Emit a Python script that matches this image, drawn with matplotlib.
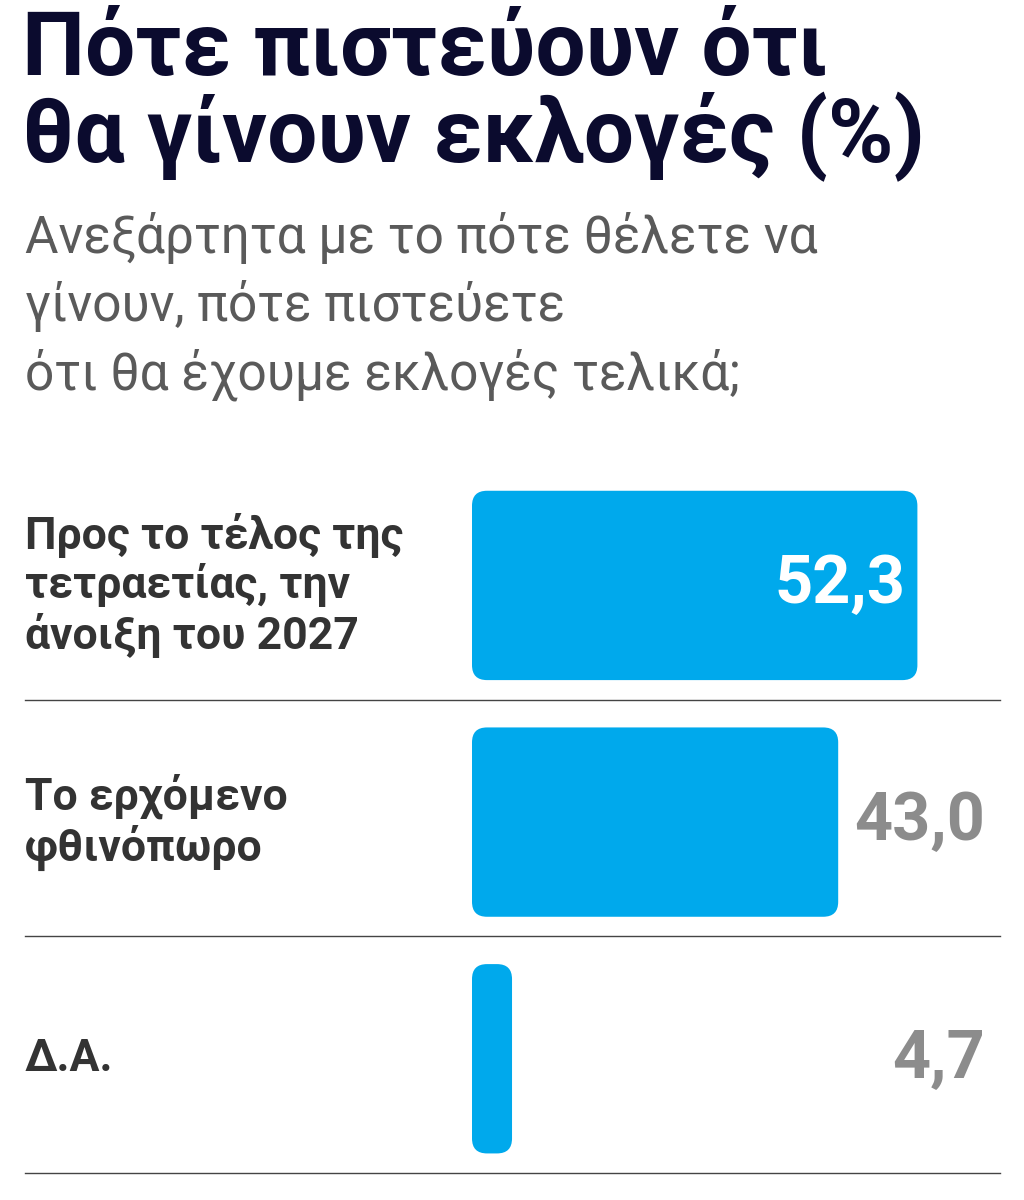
import matplotlib.pyplot as plt
from matplotlib.patches import FancyBboxPatch
from matplotlib.lines import Line2D

plt.rcParams['font.family'] = ['Roboto', 'DejaVu Sans']

# δεδομένα
categories = ["Προς το τέλος της\nτετραετίας, την\nάνοιξη του 2027",
              "Το ερχόμενο\nφθινόπωρο",
              "Δ.Α."]
values = [52.3, 43.0, 4.7]
value_labels = ["52,3", "43,0", "4,7"]

W, H = 1024, 1200
fig = plt.figure(figsize=(W / 100, H / 100), dpi=100)

def fx(px):
    return px / W

def fy(py):
    return 1 - py / H

# τίτλος
fig.text(fx(22), fy(8), "Πότε πιστεύουν ότι\nθα γίνουν εκλογές (%)", ha='left', va='top',
         fontsize=64, fontweight='bold', color='#0b0b2e', linespacing=0.98)
fig.text(fx(25), fy(212), "Ανεξάρτητα με το πότε θέλετε να\nγίνουν, πότε πιστεύετε\nότι θα έχουμε εκλογές τελικά;",
         ha='left', va='top', fontsize=37, fontweight='normal', color='#5a5a5a', linespacing=1.4)

# άξονας ράβδων
ax_l, ax_r, ax_t, ax_b = 472, 1000, 460, 1170
ax = fig.add_axes([fx(ax_l), fy(ax_b), (ax_r - ax_l) / W, (ax_b - ax_t) / H])
xmax = 62
ax.set_xlim(0, xmax)
ax.set_ylim(3, 0)
ax.axis('off')

px_per_x = (ax_r - ax_l) / xmax
px_per_y = (ax_b - ax_t) / 3
r = 15 / px_per_x
aspect = px_per_x / px_per_y
bar_h = 0.8

for i, (cat, v, lab) in enumerate(zip(categories, values, value_labels)):
    y0 = i + (1 - bar_h) / 2 + 0.03
    ax.add_patch(FancyBboxPatch((0, y0), v, bar_h, boxstyle=f"round,pad=0,rounding_size={r}",
                                mutation_aspect=aspect, facecolor='#00a9ec', edgecolor='none'))
    yc = y0 + bar_h / 2
    if v == max(values):
        ax.text(v - 12 / px_per_x, yc, lab, ha='right', va='center', fontsize=48,
                fontweight='bold', color='white')
    else:
        ax.text(xmax - 15 / px_per_x, yc, lab, ha='right', va='center', fontsize=48,
                fontweight='bold', color='#8c8c8c')
    # ετικέτα κατηγορίας
    yc_px = ax_t + yc * px_per_y
    fig.text(fx(25), fy(yc_px), cat, ha='left', va='center', fontsize=32,
             fontweight='bold', color='#333333', linespacing=1.15)
    # διαχωριστική γραμμή
    ly = ax_t + (i + 1) * px_per_y + 3
    fig.add_artist(Line2D([fx(25), fx(1000)], [fy(ly), fy(ly)], color='#444444', lw=1))

fig.savefig('out.png', dpi=100, facecolor='white')
